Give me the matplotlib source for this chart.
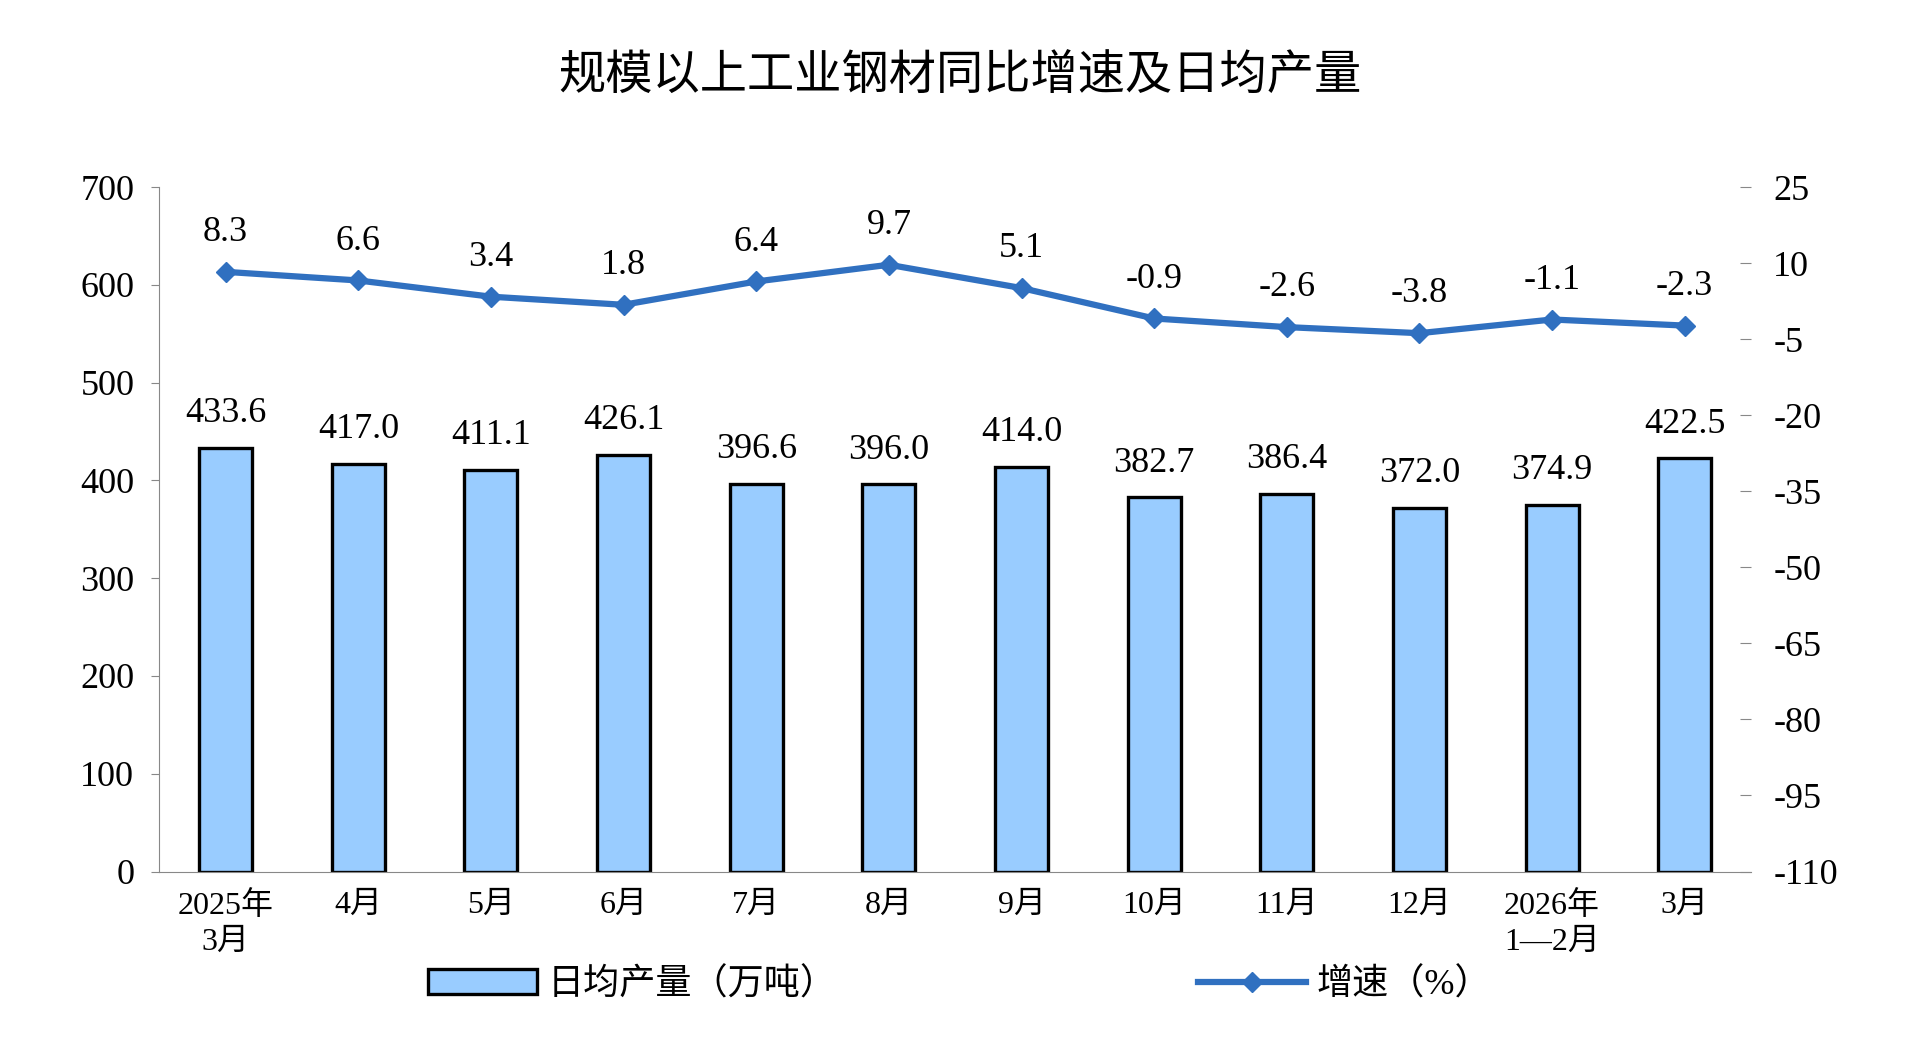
import matplotlib.pyplot as plt
import matplotlib as mpl
import numpy as np

mpl.rcParams['font.family'] = ['Liberation Serif', 'Noto Sans CJK SC']
mpl.rcParams['font.size'] = 22
mpl.rcParams['axes.unicode_minus'] = False

labels = ["2025年\n3月", "4月", "5月", "6月", "7月", "8月", "9月", "10月", "11月", "12月", "2026年\n1—2月", "3月"]
output = [433.6, 417.0, 411.1, 426.1, 396.6, 396.0, 414.0, 382.7, 386.4, 372.0, 374.9, 422.5]
growth = [8.3, 6.6, 3.4, 1.8, 6.4, 9.7, 5.1, -0.9, -2.6, -3.8, -1.1, -2.3]

fig, ax = plt.subplots(figsize=(19.2, 10.4), dpi=100)
fig.subplots_adjust(left=0.083, right=0.912, top=0.82, bottom=0.162)
x = np.arange(len(labels))

bars = ax.bar(x, output, width=0.4, color='#99CCFF', edgecolor='black', linewidth=2.4)
for xi, v in zip(x, output):
    ax.text(xi, v + 18, f"{v:.1f}", ha='center', va='bottom', fontsize=26)
ax.set_ylim(0, 700)
ax.set_yticks(range(0, 701, 100))
ax.set_xlim(-0.5, len(labels) - 0.5)
ax.set_xticks(x, labels, fontsize=23, linespacing=1.3)
for s in ['top', 'right']:
    ax.spines[s].set_visible(False)
ax.spines['left'].set_color('#888888')
ax.spines['bottom'].set_color('#888888')
ax.tick_params(axis='y', labelsize=26, color='#888888', length=6, pad=12)
ax.tick_params(axis='x', length=0, pad=14)

ax2 = ax.twinx()
line, = ax2.plot(x, growth, color='#3070C0', linewidth=4.5, marker='D', markersize=10)
for xi, v in zip(x, growth):
    ax2.text(xi, v + 4.5, f"{v:.1f}", ha='center', va='bottom', fontsize=26)
ax2.set_ylim(-110, 25)
ax2.set_yticks(range(-110, 26, 15))
for s in ['top', 'right', 'left', 'bottom']:
    ax2.spines[s].set_visible(False)
ax2.tick_params(axis='y', labelsize=26, color='#888888', length=8, direction='in', pad=16)

fig.suptitle('规模以上工业钢材同比增速及日均产量', fontsize=34, y=0.95, fontfamily='Noto Sans CJK SC', fontweight='medium')
fig.legend([bars, line], ['日均产量（万吨）', '增速（%）'], loc='lower center', ncol=2, frameon=False,
           bbox_to_anchor=(0.5, 0.005), fontsize=26, columnspacing=10, handlelength=3, handletextpad=0.3)
fig.savefig('out.png', dpi=100)
